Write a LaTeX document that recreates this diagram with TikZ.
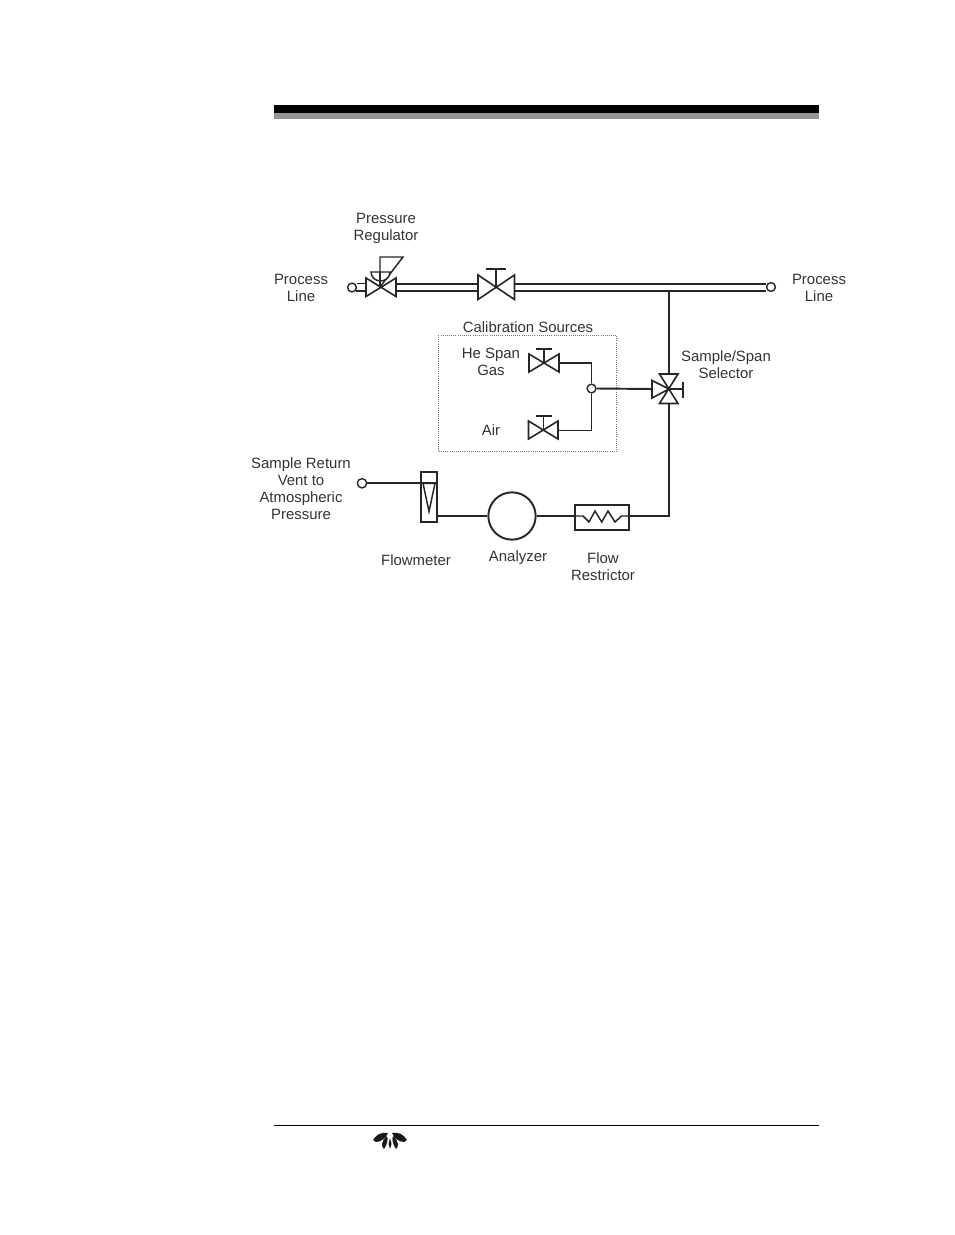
\documentclass[tikz,border=0pt]{standalone}
\usepackage{fontspec}
\setmainfont{Liberation Sans}
\tikzset{
  pipe/.style={draw=black!85,line width=1.45pt,line join=miter},
  thin pipe/.style={draw=black!85,line width=1.05pt},
  lbl/.style={align=center,inner sep=0pt,text=black!80,font=\fontsize{11.2}{12.75}\selectfont},
  term/.style={circle,draw=black!85,line width=1.05pt,fill=white,minimum size=6.6pt,inner sep=0pt},
  boxn/.style={rectangle,draw=black!85,line width=1.45pt,inner sep=0pt,fill=white},
}
\begin{document}
\begin{tikzpicture}[x=0.75pt,y=-0.75pt]
\useasboundingbox (0,0) rectangle (954,1235);
% header and footer rules
\fill[black] (274,105) rectangle (819,113);
\fill[black!42] (274,113) rectangle (819,119);
\draw[black,line width=0.85pt] (274,1125.5) -- (819,1125.5);
% logo
\fill[black!90] (373,1140) .. controls (377,1134) and (381,1132) .. (388,1133) .. controls (386,1138) and (381,1142) .. (376,1142) -- cycle;
\fill[black!90] (407,1140) .. controls (403,1134) and (399,1132) .. (392,1133) .. controls (394,1138) and (399,1142) .. (404,1142) -- cycle;
\fill[black!90] (387,1136) .. controls (388.5,1139) and (387,1145) .. (384,1149) .. controls (381,1147) and (381,1141) .. (387,1136) -- cycle;
\fill[black!90] (393,1136) .. controls (391.5,1139) and (393,1145) .. (396,1149) .. controls (399,1147) and (399,1141) .. (393,1136) -- cycle;
\fill[black!90] (390,1138) -- (391.5,1144) -- (390,1149) -- (388.5,1144) -- cycle;
% coordinates
\coordinate (regC) at (380,287);
\coordinate (v2C) at (496,287.5);
\coordinate (heC) at (544,363);
\coordinate (airC) at (543.5,430);
\coordinate (selC) at (669,389);
\coordinate (heR) at (559,363);
\coordinate (airR) at (558,430.5);
\coordinate (selL) at (652,389);
\coordinate (selT) at (669,374);
\coordinate (selB) at (669,403.5);
\coordinate (tee) at (669,291);
% terminals
\node[term] (pl) at (352,287.5) {};
\node[term] (pr) at (771,287) {};
\node[term] (junc) at (591.5,388.5) {};
\node[term,minimum size=7pt] (ret) at (362,483.3) {};
% double pipes
\draw[thin pipe] (pl.east |- 0,283.5) -- (366,283.5) (355.5,291) -- (366,291);
\draw[thin pipe] (396,284) -- (478,284) (396,291) -- (478,291);
\draw[thin pipe] (515,284) -- (pr.west |- 0,284) (515,291) -- (pr.west |- 0,291);
% regulator
\draw[pipe,line width=1.2pt] (366,278) -- (396,296.5) -- (396,278) -- (366,296.5) -- cycle;
\draw[pipe,line width=1.1pt] (regC) -- (380,257) -- (403,257) -- cycle;
\draw[pipe,line width=1.1pt,fill=white] (371,272) arc[start angle=180,end angle=0,x radius=9.5,y radius=9] -- cycle;
\draw[pipe,line width=1.1pt] (regC) -- (380,272);
% main valve
\draw[pipe,line width=1.2pt] (478,275) -- (514.5,299.5) -- (514.5,275) -- (478,299.5) -- cycle;
\draw[pipe,line width=1.2pt] (v2C) -- (496,269) (485.5,269) -- (505.5,269);
% he valve
\draw[pipe,line width=1.2pt] (529,354) -- (559,372) -- (559,354) -- (529,372) -- cycle;
\draw[pipe,line width=1.2pt] (heC) -- (544,349) (536,349) -- (552,349);
% air valve
\draw[pipe,line width=1.2pt] (528.5,421) -- (558,439) -- (558,421) -- (528.5,439) -- cycle;
\draw[pipe,line width=1.2pt] (airC) -- (543.5,416) (535.5,416) -- (551.5,416);
% selector
\draw[pipe,line width=1.2pt] (659.5,374) -- (678,374) -- (659.5,403.5) -- (678,403.5) -- cycle;
\draw[pipe,line width=1.2pt] (652,380.5) -- (652,398) -- (selC) -- cycle;
\draw[pipe,line width=1.2pt] (selC) -- (683,389) (683,381.5) -- (683,398);
% calibration box
\draw[black!55,line width=0.6pt,densely dotted] (438,335) rectangle (616.5,451.5);
% boxes
\node[boxn,minimum width=12.4pt,minimum height=37.5pt] (fm) at (429,496.7) {};
\node[boxn,circle,minimum size=35.5pt] (an) at (512,516) {};
\node[boxn,minimum width=40.5pt,minimum height=19pt] (fr) at (602.2,517.3) {};
\draw[pipe,line width=1.1pt] (423,483.3) -- (435,483.3) -- (429,511.5) -- cycle;
\draw[pipe,line width=1.1pt] (fr.west |- 0,516) -- (583,516) -- (589,522) -- (595,511) -- (601.7,522) -- (608,511) -- (615,522) -- (621.5,516) -- (fr.east |- 0,516);
% connectors
\draw[pipe] (tee) -- (selT);
\draw[pipe] (heR) -| (junc.north);
\draw[pipe] (airR) -| (junc.south);
\draw[pipe] (junc.east) -- (selL);
\draw[pipe] (selB) |- (fr.east |- 0,515.7);
\draw[pipe] (ret.east) -- (fm.west |- ret);
\draw[pipe] (fm.west |- ret) -- (fm.east |- ret);
\draw[pipe] (fm.east |- an) -- (an.west);
\draw[pipe] (an.east) -- (fr.west |- an);
% labels
\node[lbl] (l1) at (386,228.5) {Pressure\\Regulator};
\node[lbl] (l2) at (301,288) {Process\\Line};
\node[lbl] (l3) at (819,288) {Process\\Line};
\node[lbl] (l4) at (528,327) {Calibration Sources};
\node[lbl] (l5) at (491,362) {He Span\\Gas};
\node[lbl] (l6) at (491,430) {Air};
\node[lbl] (l7) at (726,364.5) {Sample/Span\\Selector};
\node[lbl] (l8) at (301,488.5) {Sample Return\\Vent to\\Atmospheric\\Pressure};
\node[lbl] (l9) at (416,560) {Flowmeter};
\node[lbl] (l10) at (518,558) {Analyzer};
\node[lbl] (l11) at (603,566.5) {Flow\\Restrictor};
\end{tikzpicture}
\end{document}
